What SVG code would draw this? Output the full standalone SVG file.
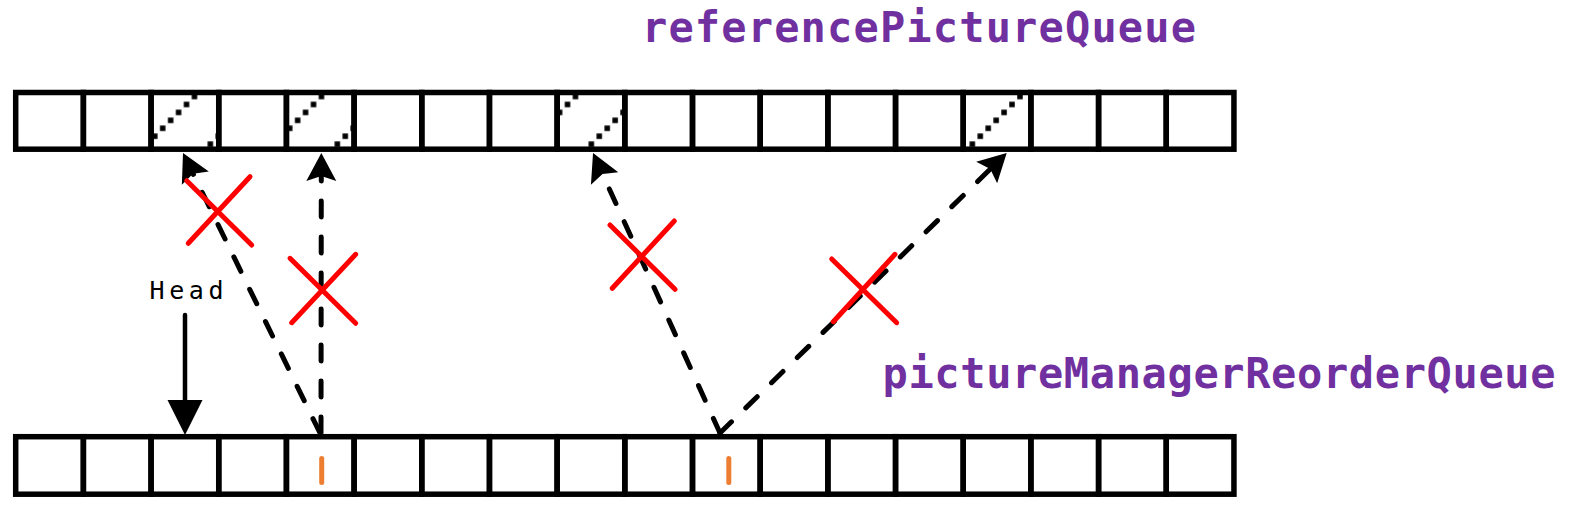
<svg xmlns="http://www.w3.org/2000/svg" width="1579" height="512" viewBox="0 0 1579 512">
<style>
.cell{fill:none;stroke:#000;stroke-width:5.5}
.hatch{fill:url(#hatch);stroke:none}
.dash{fill:none;stroke:#000;stroke-width:5;stroke-dasharray:16 20;stroke-linecap:round;marker-end:url(#ah)}
.solid{fill:none;stroke:#000;stroke-width:4.5;stroke-linecap:round;marker-end:url(#ahs)}
.x{fill:none;stroke:#ff0000;stroke-width:5;stroke-linecap:round}
.mark{fill:none;stroke:#ed7d31;stroke-width:5;stroke-linecap:round}
.title{font-family:"DejaVu Sans Mono","Liberation Mono",monospace;font-weight:bold;font-size:42px;fill:#7030a0}
.lbl{font-family:"DejaVu Sans Mono","Liberation Mono",monospace;font-size:25px;fill:#000}
</style>
<defs>
<pattern id="hatch" patternUnits="userSpaceOnUse" x="0" y="37" width="63.5" height="63.5">
<g fill="#000">
<rect x="1.22" y="56.78" width="5.5" height="5.5"/>
<rect x="9.16" y="48.84" width="5.5" height="5.5"/>
<rect x="17.09" y="40.91" width="5.5" height="5.5"/>
<rect x="25.03" y="32.97" width="5.5" height="5.5"/>
<rect x="32.97" y="25.03" width="5.5" height="5.5"/>
<rect x="40.91" y="17.09" width="5.5" height="5.5"/>
<rect x="48.84" y="9.16" width="5.5" height="5.5"/>
<rect x="56.78" y="1.22" width="5.5" height="5.5"/>
</g>
</pattern>
<marker id="ah" markerUnits="userSpaceOnUse" orient="auto" overflow="visible" refX="0" refY="0" markerWidth="1" markerHeight="1">
<path d="M20,0 L-8,-15 L-3,0 L-8,15 Z" fill="#000"/>
</marker>
<marker id="ahs" markerUnits="userSpaceOnUse" orient="auto" overflow="visible" refX="0" refY="0" markerWidth="1" markerHeight="1">
<path d="M30,0 L-5,-17.5 L-5,17.5 Z" fill="#000"/>
</marker>
</defs>
<rect x="0" y="0" width="1579" height="512" fill="#fff"/>

<g id="referencePictureQueue">
<rect class="hatch" x="151.06" y="92.5" width="67.68" height="56.7"/>
<rect class="hatch" x="286.42" y="92.5" width="67.68" height="56.7"/>
<rect class="hatch" x="557.14" y="92.5" width="67.68" height="56.7"/>
<rect class="hatch" x="963.22" y="92.5" width="67.68" height="56.7"/>
<rect class="cell" x="15.7" y="92.5" width="67.68" height="56.7"/>
<rect class="cell" x="83.38" y="92.5" width="67.68" height="56.7"/>
<rect class="cell" x="151.06" y="92.5" width="67.68" height="56.7"/>
<rect class="cell" x="218.74" y="92.5" width="67.68" height="56.7"/>
<rect class="cell" x="286.42" y="92.5" width="67.68" height="56.7"/>
<rect class="cell" x="354.1" y="92.5" width="67.68" height="56.7"/>
<rect class="cell" x="421.78" y="92.5" width="67.68" height="56.7"/>
<rect class="cell" x="489.46" y="92.5" width="67.68" height="56.7"/>
<rect class="cell" x="557.14" y="92.5" width="67.68" height="56.7"/>
<rect class="cell" x="624.82" y="92.5" width="67.68" height="56.7"/>
<rect class="cell" x="692.5" y="92.5" width="67.68" height="56.7"/>
<rect class="cell" x="760.18" y="92.5" width="67.68" height="56.7"/>
<rect class="cell" x="827.86" y="92.5" width="67.68" height="56.7"/>
<rect class="cell" x="895.54" y="92.5" width="67.68" height="56.7"/>
<rect class="cell" x="963.22" y="92.5" width="67.68" height="56.7"/>
<rect class="cell" x="1030.9" y="92.5" width="67.68" height="56.7"/>
<rect class="cell" x="1098.58" y="92.5" width="67.68" height="56.7"/>
<rect class="cell" x="1166.26" y="92.5" width="67.68" height="56.7"/>
<text class="title" x="642" y="42.3" textLength="554" lengthAdjust="spacing">referencePictureQueue</text>
</g>

<g id="pictureManagerReorderQueue">
<rect class="cell" x="15.7" y="436.7" width="67.68" height="57.5"/>
<rect class="cell" x="83.38" y="436.7" width="67.68" height="57.5"/>
<rect class="cell" x="151.06" y="436.7" width="67.68" height="57.5"/>
<rect class="cell" x="218.74" y="436.7" width="67.68" height="57.5"/>
<rect class="cell" x="286.42" y="436.7" width="67.68" height="57.5"/>
<rect class="cell" x="354.1" y="436.7" width="67.68" height="57.5"/>
<rect class="cell" x="421.78" y="436.7" width="67.68" height="57.5"/>
<rect class="cell" x="489.46" y="436.7" width="67.68" height="57.5"/>
<rect class="cell" x="557.14" y="436.7" width="67.68" height="57.5"/>
<rect class="cell" x="624.82" y="436.7" width="67.68" height="57.5"/>
<rect class="cell" x="692.5" y="436.7" width="67.68" height="57.5"/>
<rect class="cell" x="760.18" y="436.7" width="67.68" height="57.5"/>
<rect class="cell" x="827.86" y="436.7" width="67.68" height="57.5"/>
<rect class="cell" x="895.54" y="436.7" width="67.68" height="57.5"/>
<rect class="cell" x="963.22" y="436.7" width="67.68" height="57.5"/>
<rect class="cell" x="1030.9" y="436.7" width="67.68" height="57.5"/>
<rect class="cell" x="1098.58" y="436.7" width="67.68" height="57.5"/>
<rect class="cell" x="1166.26" y="436.7" width="67.68" height="57.5"/>
<line class="mark" x1="321.7" y1="458.5" x2="321.7" y2="482.5"/>
<line class="mark" x1="728.8" y1="458.5" x2="728.8" y2="482.5"/>
<text class="title" x="882.5" y="388.3" textLength="673" lengthAdjust="spacing">pictureManagerReorderQueue</text>
</g>

<g id="head">
<text class="lbl" x="149.5" y="299.3" textLength="74" lengthAdjust="spacing">Head</text>
</g>

<g id="connectors">
<line class="solid" x1="185" y1="315" x2="185" y2="405"/>
<line class="dash" x1="320" y1="433" x2="191.8" y2="171"/>
<line class="dash" x1="321" y1="433" x2="321.3" y2="173"/>
<line class="dash" x1="720" y1="433" x2="601.3" y2="171.2"/>
<line class="dash" x1="720" y1="433" x2="992.4" y2="167"/>
</g>

<g id="crosses">
<line class="x" x1="186.7" y1="180.7" x2="251.7" y2="245"/>
<line class="x" x1="250" y1="176.7" x2="188.3" y2="243.3"/>
<line class="x" x1="290" y1="258.3" x2="355.7" y2="323.3"/>
<line class="x" x1="355.7" y1="254.3" x2="291.7" y2="322.7"/>
<line class="x" x1="610" y1="225" x2="675" y2="289.3"/>
<line class="x" x1="674.3" y1="221" x2="612.3" y2="288.3"/>
<line class="x" x1="831.7" y1="259" x2="896.7" y2="322.7"/>
<line class="x" x1="895" y1="254.3" x2="833.3" y2="321.7"/>
</g>
</svg>
